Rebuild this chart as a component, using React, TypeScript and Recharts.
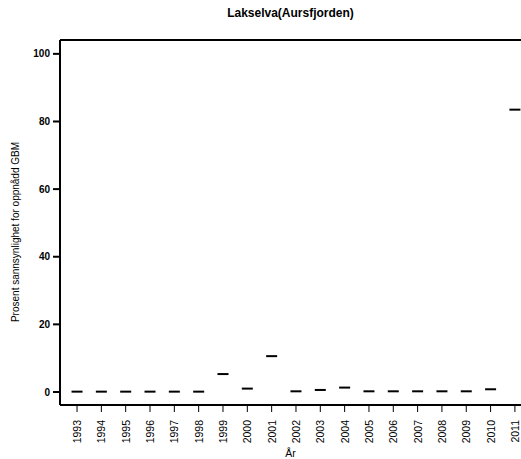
import React from 'react';
import { ScatterChart, Scatter, XAxis, YAxis, ReferenceLine } from 'recharts';

const years = [1993, 1994, 1995, 1996, 1997, 1998, 1999, 2000, 2001, 2002, 2003, 2004, 2005, 2006, 2007, 2008, 2009, 2010, 2011];
const percent = [0.1, 0.1, 0.1, 0.1, 0.1, 0.1, 5.3, 1.0, 10.6, 0.2, 0.6, 1.3, 0.2, 0.2, 0.2, 0.2, 0.2, 0.8, 83.5];
const yTicks = [0, 20, 40, 60, 80, 100];

const font = '"Liberation Sans", Arial, sans-serif';

const Dash = (props: any) => {
  const { cx, cy } = props;
  return <line x1={cx - 5.5} x2={cx + 5.5} y1={cy} y2={cy} stroke="#000" strokeWidth={2} />;
};

const YearTick = ({ x, y, payload }: any) => (
  <text
    x={0}
    y={0}
    transform={`translate(${x + 4},${y + 6}) rotate(-90)`}
    textAnchor="end"
    fontSize={10.5}
    fontFamily={font}
    fill="#000"
  >
    {payload.value}
  </text>
);

export default function App() {
  const data = years.map((year, i) => ({ year, value: percent[i] }));
  return (
    <div style={{ position: 'absolute', left: 0, top: 0, width: 521, height: 459, background: '#fff', fontFamily: font }}>
      <div style={{
        position: 'absolute',
        top: 6,
        left: 60,
        width: 461,
        textAlign: 'center',
        fontSize: 12,
        fontWeight: 700
      }}>
        Lakselva(Aursfjorden)
      </div>
      <div style={{
        position: 'absolute',
        left: 15,
        top: 232,
        transform: 'translate(-50%,-50%) rotate(-90deg)',
        whiteSpace: 'nowrap',
        fontSize: 10
      }}>
        Prosent sannsynlighet for oppnådd GBM
      </div>
      <ScatterChart width={521} height={459} margin={{ top: 40, right: 0, bottom: 0, left: 0 }}>
        <XAxis
          dataKey="year"
          type="number"
          domain={[1992.3, 2011.25]}
          ticks={years}
          interval={0}
          height={54}
          tick={<YearTick />}
          tickLine={{ stroke: '#000', strokeWidth: 1 }}
          tickSize={7}
          axisLine={{ stroke: '#000', strokeWidth: 2 }}
          label={{ value: 'År', position: 'insideBottom', offset: 2, fontSize: 10.5, fill: '#000', fontFamily: font }}
        />
        <YAxis
          dataKey="value"
          type="number"
          domain={[-3.85, 104.1]}
          ticks={yTicks}
          width={60}
          tickSize={7}
          tickMargin={3}
          tickLine={{ stroke: '#000', strokeWidth: 2 }}
          axisLine={{ stroke: '#000', strokeWidth: 2 }}
          tick={{ fill: '#000', fontSize: 10, fontWeight: 700, fontFamily: font }}
        />
        <ReferenceLine y={104.1} stroke="#000" strokeWidth={2} ifOverflow="visible" />
        <Scatter data={data} shape={<Dash />} isAnimationActive={false} />
      </ScatterChart>
    </div>
  );
}
